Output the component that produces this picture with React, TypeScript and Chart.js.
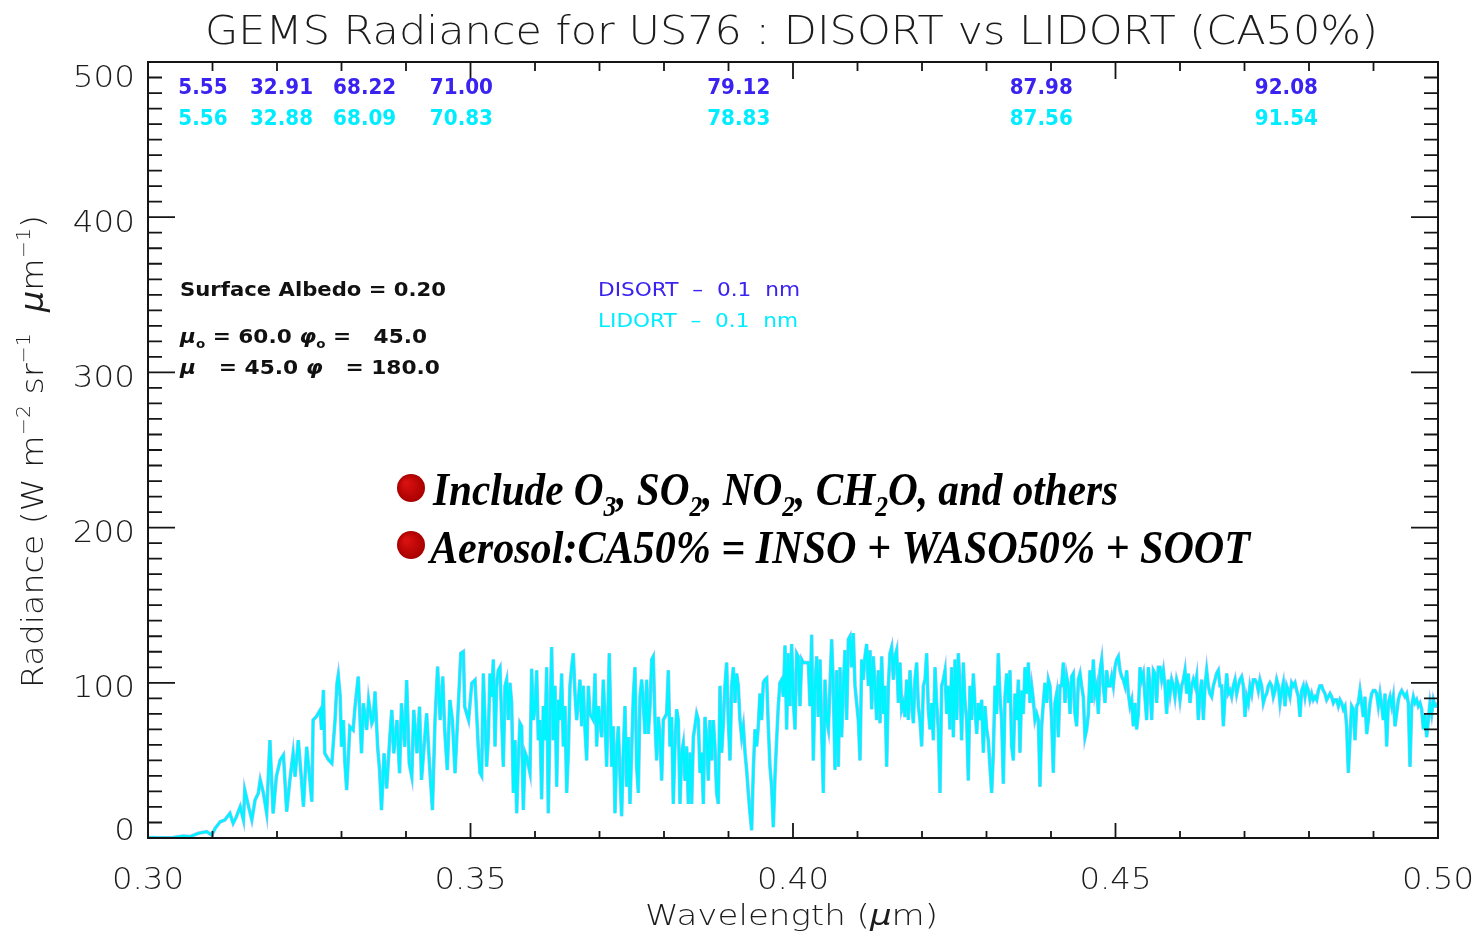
import React, { useEffect, useRef } from 'react';
import { Chart, registerables } from 'chart.js';

Chart.register(...registerables);

// ---------------- data ----------------
const X_TICKS = [0.3, 0.35, 0.4, 0.45, 0.5];
const X_TICK_LABELS = ['0.30', '0.35', '0.40', '0.45', '0.50'];
const Y_TICKS = [0, 100, 200, 300, 400, 500];
const Y_TICK_LABELS = ['0', '100', '200', '300', '400', '500'];

const DISORT_MEANS = ['5.55', '32.91', '68.22', '71.00', '79.12', '87.98', '92.08'];
const LIDORT_MEANS = ['5.56', '32.88', '68.09', '70.83', '78.83', '87.56', '91.54'];
const MEAN_ANCHORS_UM = [0.3047, 0.3158, 0.3287, 0.3437, 0.3867, 0.4336, 0.4716];

// LIDORT radiance spectrum, [wavelength nm, radiance]
const SPEC_300_351: number[][] = [
  [300.05,0.3],[301.9,0.2],[303.9,0.3],[305.5,1.3],[306.5,0.9],[307.8,3],[309.1,4.1],[309.9,1.9],[310.4,6.2],[311.2,10.5],
  [311.9,11.6],[312.7,15.9],[313.2,9.5],[313.7,13.7],[314.3,20.2],[314.8,11.6],[315.0,30.9],[315.6,20.2],[316.1,11.6],[316.6,24.5],
  [317.1,28.8],[317.4,37.4],[317.9,28.8],[318.4,15.9],[318.9,63.1],[319.4,15.9],[319.9,39.5],[320.5,50.3],[321.0,53.5],[321.5,17],
  [322.0,37.4],[322.5,54.6],[322.8,39.5],[323.3,63.1],[323.8,37.4],[324.1,20.2],[324.6,58.8],[324.9,46],[325.4,23.4],[325.6,76],
  [326.1,78.2],[326.7,82.5],[326.9,69.6],[327.2,95.4],[327.4,54.6],[328.0,50.3],[328.5,48.1],[329.0,76],[329.3,99.7],[329.5,105],
  [329.8,91.1],[330.0,58.8],[330.3,76],[330.5,50.3],[330.8,30.9],[331.3,71.7],[331.8,69.6],[332.1,84.6],[332.6,104],[333.1,54.6],
  [333.4,86.8],[333.9,69.6],[334.2,88.9],[334.7,73.9],[334.9,76],[335.2,94.3],[335.6,58.8],[335.9,43.8],[336.2,18],[336.6,54.6],
  [337.0,32],[337.5,65.3],[337.8,82.5],[338.1,54.6],[338.6,76],[339.0,41.7],[339.3,86.8],[339.8,58.8],[340.1,101.8],[340.5,48.1],
  [340.9,39.5],[341.2,82.5],[341.7,54.6],[342.1,84.6],[342.4,37.4],[342.8,58.8],[343.2,80.3],[343.6,50.3],[344.1,18],[344.5,76],
  [344.9,110.4],[345.3,76],[345.7,104],[346.0,69.6],[346.4,43.8],[346.8,88.9],[347.2,76],[347.6,41.7],[348.1,84.6],[348.5,119],
  [348.9,120.1],[349.1,84.6],[349.7,76],[350.2,99.7],[350.7,101.8],[351.2,58.8],
];
const SPEC_351_402: number[][] = [
  [351.47,42],[351.73,40],[351.99,106],[352.25,76],[352.5,46],[352.76,65],[353.02,106],[353.28,91],[353.54,115],[353.8,59],
  [354.05,98],[354.31,108],[354.57,110],[354.83,76],[355.09,46],[355.35,98],[355.6,102],[355.86,76],[356.12,100],[356.38,87],
  [356.64,29],[356.9,63],[357.16,16],[357.41,50],[357.67,74],[357.93,72],[358.19,18],[358.45,55],[358.71,52],[359.22,42],
  [359.48,109],[359.74,76],[360.0,83],[360.26,108],[360.51,63],[360.77,76],[361.03,25],[361.29,85],[361.55,63],[361.81,110],
  [362.06,16],[362.32,76],[362.58,123],[362.84,63],[363.1,98],[363.36,33],[363.61,89],[363.87,76],[364.13,106],[364.39,59],
  [364.65,85],[364.91,29],[365.17,55],[365.42,98],[365.68,110],[365.94,119],[366.2,93],[366.46,76],[366.72,89],[366.97,102],
  [367.23,72],[367.49,98],[367.75,70],[368.01,50],[368.27,98],[368.52,80],[369.04,76],[369.3,106],[369.56,59],[369.82,85],
  [370.33,65],[370.59,102],[370.85,76],[371.11,46],[371.52,119],[371.88,46],[372.14,72],[372.4,16],[372.66,55],[372.92,72],
  [373.18,40],[373.43,14],[373.69,55],[373.95,85],[374.21,33],[374.47,65],[374.73,22],[375.24,91],[375.5,110],[375.76,46],
  [376.02,29],[376.28,91],[376.54,102],[376.79,87],[377.05,67],[377.31,102],[377.57,67],[377.83,85],[378.09,115],[378.34,117],
  [378.6,76],[378.86,50],[379.12,78],[379.38,65],[379.64,37],[379.89,76],[380.41,80],[380.67,108],[380.93,59],[381.19,78],
  [381.44,22],[381.7,59],[381.96,83],[382.22,76],[382.48,22],[382.74,55],[382.99,61],[383.25,37],[383.51,59],[383.77,22],
  [384.03,55],[384.29,22],[384.55,65],[384.8,72],[385.06,80],[385.32,76],[385.58,42],[385.84,55],[386.1,22],[386.35,78],
  [386.61,65],[386.87,37],[387.13,76],[387.39,50],[387.65,76],[387.9,59],[388.16,29],[388.42,22],[388.68,98],[388.94,55],
  [389.2,74],[389.45,98],[389.71,113],[389.97,76],[390.23,50],[390.49,98],[390.75,110],[391.01,87],[391.26,106],[391.52,98],
  [391.78,76],[392.04,65],[392.3,72],[392.56,55],[392.81,44],[393.07,29],[393.33,16],[393.59,5],[393.85,44],[394.11,70],
  [394.36,59],[394.62,72],[394.88,93],[395.14,76],[395.4,100],[395.66,102],[395.92,103],[396.17,72],[396.43,46],[396.69,33],
  [396.95,7],[397.21,40],[397.46,63],[397.72,85],[397.98,100],[398.24,102],[398.5,91],[398.76,124],[399.01,70],[399.27,119],
  [399.53,85],[399.79,125],[400.05,89],[400.31,70],[400.56,119],[400.82,117],[401.08,85],[401.34,115],[401.6,113],
];
const SPEC_402_451: number[][] = [
  [401.86,113],[402.38,113],[402.64,85],[402.89,131],[403.15,50],[403.41,98],[403.67,117],[403.93,78],[404.19,115],[404.44,70],
  [404.7,29],[404.96,102],[405.22,76],[405.48,70],[405.74,98],[405.99,128],[406.25,98],[406.51,44],[406.77,108],[407.03,46],
  [407.29,110],[407.54,65],[407.8,98],[408.06,121],[408.32,76],[408.58,128],[408.84,130],[409.1,110],[409.35,132],[409.61,98],
  [409.87,87],[410.13,76],[410.39,50],[410.65,115],[410.9,102],[411.16,117],[411.42,125],[411.68,98],[411.94,121],[412.2,83],
  [412.45,117],[412.71,98],[412.97,76],[413.23,108],[413.49,74],[413.75,117],[414.0,80],[414.26,98],[414.52,46],[414.78,98],
  [415.04,119],[415.3,123],[415.56,102],[415.81,117],[416.07,121],[416.33,87],[416.59,113],[416.85,83],[417.11,87],[417.36,78],
  [417.62,102],[417.88,76],[418.14,108],[418.4,87],[418.66,74],[418.91,102],[419.17,113],[419.43,85],[419.69,76],[419.95,59],
  [420.21,98],[420.47,102],[420.72,119],[420.98,83],[421.24,70],[421.5,87],[421.76,63],[422.02,110],[422.27,87],[422.53,70],
  [422.79,29],[423.05,98],[423.31,102],[423.57,108],[423.82,80],[424.08,98],[424.34,70],[424.6,110],[424.86,65],[425.12,115],
  [425.38,76],[425.63,119],[425.89,98],[426.15,63],[426.41,113],[426.67,87],[426.93,76],[427.18,37],[427.44,98],[427.7,76],
  [427.96,106],[428.22,85],[428.48,67],[428.73,87],[428.99,76],[429.25,89],[429.51,55],[429.77,85],[430.03,70],[430.28,63],
  [430.54,46],[430.8,29],[431.06,55],[431.32,98],[431.58,80],[431.83,119],[432.09,91],[432.35,76],[432.61,35],[432.87,91],
  [433.13,106],[433.39,87],[433.64,108],[433.9,59],[434.16,50],[434.42,93],[434.68,76],[434.94,102],[435.19,55],[435.45,95],
  [435.71,80],[435.97,110],[436.23,93],[436.49,113],[436.74,87],[437.0,98],[437.26,89],[437.52,76],[437.78,80],[438.04,76],
  [438.29,33],[438.55,72],[438.81,87],[439.07,100],[439.33,87],[439.59,102],[439.84,98],[440.1,76],[440.36,42],[440.62,87],
  [440.88,93],[441.14,65],[441.4,98],[441.65,98],[441.91,113],[442.17,87],[442.43,104],[442.69,98],[442.95,80],[443.2,104],
  [443.46,106],[443.72,80],[443.98,72],[444.24,102],[444.5,106],[444.75,98],[445.01,91],[445.27,65],[445.53,70],[445.79,80],
  [446.05,108],[446.3,87],[446.56,115],[446.82,93],[447.08,98],[447.34,80],[447.6,108],[447.86,115],[448.11,98],[448.37,87],
  [448.63,108],[448.89,98],[449.15,98],[449.41,104],[449.66,98],[449.92,110],[450.18,115],[450.44,117],[450.7,108],[450.96,104],
  [451.21,102],
];
const SPEC_451_500: number[][] = [
  [451.47,98],[451.73,108],[451.99,93],[452.25,85],[452.51,89],[452.76,72],[453.02,87],[453.28,70],[453.54,80],[453.8,110],
  [454.06,102],[454.32,106],[454.57,91],[454.83,76],[455.09,110],[455.35,98],[455.61,76],[455.87,108],[456.12,106],[456.38,87],
  [456.64,110],[456.9,110],[457.16,102],[457.42,108],[457.67,98],[457.93,80],[458.19,102],[458.45,93],[458.71,102],[458.97,98],
  [459.22,91],[459.48,102],[459.74,98],[460.0,89],[460.26,98],[460.52,102],[460.77,108],[461.03,93],[461.29,106],[461.55,87],
  [461.81,98],[462.07,102],[462.33,98],[462.58,104],[462.84,76],[463.1,93],[463.36,102],[463.62,76],[463.88,98],[464.13,108],
  [464.39,98],[464.65,93],[464.91,91],[465.17,98],[465.43,102],[465.68,106],[465.94,108],[466.2,98],[466.46,98],[466.72,72],
  [466.98,91],[467.24,106],[467.49,93],[467.75,95],[468.01,91],[468.27,98],[468.53,102],[468.79,93],[469.04,98],[469.3,102],
  [469.56,104],[469.82,98],[470.08,78],[470.34,91],[470.59,87],[470.85,98],[471.11,93],[471.37,102],[471.63,102],[471.89,100],
  [472.14,95],[472.4,102],[472.66,98],[472.92,87],[473.18,91],[473.44,93],[473.69,98],[473.95,100],[474.21,98],[474.47,91],
  [474.73,95],[474.99,102],[475.25,98],[475.5,87],[475.76,95],[476.02,100],[476.28,85],[476.54,98],[476.8,95],[477.05,91],
  [477.31,100],[477.57,98],[477.83,100],[478.09,95],[478.35,91],[478.6,78],[478.86,95],[479.12,98],[479.38,91],[479.64,98],
  [479.9,95],[480.15,89],[480.41,93],[480.67,89],[480.93,91],[481.19,89],[481.45,95],[481.7,98],[481.96,98],[482.22,95],
  [482.48,93],[482.74,89],[483.0,91],[483.26,93],[483.51,91],[483.77,87],[484.03,89],[484.29,89],[484.55,85],[484.81,89],
  [485.06,87],[485.32,83],[485.58,85],[485.84,72],[486.1,42],[486.36,65],[486.61,85],[486.87,83],[487.13,63],[487.39,85],
  [487.65,87],[487.91,95],[488.17,87],[488.42,78],[488.68,91],[488.94,67],[489.2,76],[489.46,87],[489.72,93],[489.97,95],
  [490.23,95],[490.49,93],[490.75,85],[491.01,93],[491.27,85],[491.52,76],[491.78,93],[492.04,59],[492.3,87],[492.56,91],
  [492.82,85],[493.07,91],[493.33,72],[493.59,80],[493.85,89],[494.11,93],[494.37,95],[494.63,93],[494.88,91],[495.14,93],
  [495.4,87],[495.66,46],[495.92,85],[496.18,91],[496.43,87],[496.69,89],[496.95,85],[497.21,87],[497.47,83],[497.73,70],
  [497.98,80],[498.24,65],[498.5,76],[498.76,87],[499.02,80],[499.28,89],[499.54,85],[499.8,85],[500.0,87],
];

// DISORT and LIDORT curves coincide in the picture (DISORT lies beneath LIDORT).
const LIDORT_SPECTRUM = [...SPEC_300_351, ...SPEC_351_402, ...SPEC_402_451, ...SPEC_451_500];
const DISORT_SPECTRUM = LIDORT_SPECTRUM.map((p) => [p[0], p[1]]);

// ---------------- styling ----------------
const IDL_FONT = '"DejaVu Sans"';
const SERIF_FONT = '"Liberation Serif", "DejaVu Serif", serif';
const BLUE = '#3a22f0';
const CYAN = '#00ecff';

type Seg = { t: string; sub?: boolean; sup?: boolean; style?: string; weight?: string };
type RichOpts = {
  size: number;
  family: string;
  weight?: string;
  style?: string;
  color: string;
  width?: number;
  sx?: number;
  align?: 'left' | 'center' | 'right';
  rotate?: number;
};

function drawRich(ctx: CanvasRenderingContext2D, segs: Seg[], x: number, y: number, o: RichOpts) {
  const fontOf = (s: Seg) => {
    const sz = s.sub || s.sup ? o.size * 0.62 : o.size;
    return `${s.style ?? o.style ?? 'normal'} ${s.weight ?? o.weight ?? 'normal'} ${sz}px ${o.family}`;
  };
  const widths = segs.map((s) => {
    ctx.font = fontOf(s);
    return ctx.measureText(s.t).width;
  });
  const total = widths.reduce((a, b) => a + b, 0);
  const sx = o.width ? o.width / total : o.sx ?? 1;
  const align = o.align ?? 'left';
  let cx = align === 'left' ? 0 : align === 'center' ? -total / 2 : -total;
  ctx.save();
  ctx.translate(x, y);
  if (o.rotate) ctx.rotate(o.rotate);
  ctx.scale(sx, 1);
  ctx.fillStyle = o.color;
  ctx.textAlign = 'left';
  ctx.textBaseline = 'alphabetic';
  segs.forEach((s, i) => {
    ctx.font = fontOf(s);
    const dy = s.sub ? o.size * 0.24 : s.sup ? -o.size * 0.42 : 0;
    ctx.fillText(s.t, cx, dy);
    cx += widths[i];
  });
  ctx.restore();
}

const idlPlugin = {
  id: 'idlFrame',
  afterDraw(chart: any) {
    const { ctx, chartArea: a, scales } = chart;
    const xs = scales.x;
    const ys = scales.y;
    ctx.save();

    // frame
    ctx.strokeStyle = '#151515';
    ctx.lineWidth = 2;
    ctx.strokeRect(a.left, a.top, a.right - a.left, a.bottom - a.top);

    // inward ticks
    ctx.lineWidth = 1.8;
    ctx.beginPath();
    for (let v = 0; v <= 500; v += 10) {
      const py = ys.getPixelForValue(v);
      const L = v % 100 === 0 ? 27 : 14;
      ctx.moveTo(a.left, py);
      ctx.lineTo(a.left + L, py);
      ctx.moveTo(a.right, py);
      ctx.lineTo(a.right - L, py);
    }
    for (let i = 0; i <= 20; i++) {
      const px = xs.getPixelForValue(0.3 + i * 0.01);
      const major = i % 5 === 0;
      ctx.moveTo(px, a.bottom);
      ctx.lineTo(px, a.bottom - (major ? 15 : 7));
      ctx.moveTo(px, a.top);
      ctx.lineTo(px, a.top + (major ? 17 : 9));
    }
    ctx.stroke();

    // title
    drawRich(ctx, [{ t: 'GEMS Radiance for US76 : DISORT vs LIDORT (CA50%)' }], 791.5, 44, {
      size: 39, family: IDL_FONT, weight: '300', color: '#1c1c1c', width: 1173, align: 'center',
    });

    // x tick labels
    X_TICKS.forEach((v, i) => {
      drawRich(ctx, [{ t: X_TICK_LABELS[i] }], xs.getPixelForValue(v), 889, {
        size: 30, family: IDL_FONT, weight: '300', color: '#1c1c1c', width: 72, align: 'center',
      });
    });
    // y tick labels
    Y_TICKS.forEach((v, i) => {
      const off = v === 500 ? 13 : v === 0 ? -10 : 3;
      const cy = ys.getPixelForValue(v) + off;
      drawRich(ctx, [{ t: Y_TICK_LABELS[i] }], 135, cy + 11.5, {
        size: 31, family: IDL_FONT, weight: '300', color: '#1c1c1c', sx: 1.05, align: 'right',
      });
    });

    // axis titles
    drawRich(ctx, [{ t: 'Wavelength (' }, { t: 'μ', style: 'italic' }, { t: 'm)' }], 791.5, 925, {
      size: 29, family: IDL_FONT, weight: '300', color: '#1c1c1c', width: 293, align: 'center',
    });
    drawRich(
      ctx,
      [
        { t: 'Radiance (W m' }, { t: '−2', sup: true }, { t: ' sr' }, { t: '−1', sup: true },
        { t: '  ' }, { t: 'μ', style: 'italic' }, { t: 'm' }, { t: '−1', sup: true }, { t: ')' },
      ],
      43, 451.5,
      { size: 31, family: IDL_FONT, weight: '300', color: '#1c1c1c', width: 473, align: 'center', rotate: -Math.PI / 2 },
    );

    // mean values
    MEAN_ANCHORS_UM.forEach((u, i) => {
      const px = xs.getPixelForValue(u);
      drawRich(ctx, [{ t: DISORT_MEANS[i] }], px, 94, { size: 21, family: IDL_FONT, weight: '600', color: BLUE, sx: 0.95 });
      drawRich(ctx, [{ t: LIDORT_MEANS[i] }], px, 125, { size: 21, family: IDL_FONT, weight: '600', color: CYAN, sx: 0.95 });
    });

    // geometry block
    drawRich(ctx, [{ t: 'Surface Albedo = 0.20' }], 180, 296, {
      size: 20, family: IDL_FONT, weight: 'bold', color: '#111', width: 266,
    });
    drawRich(
      ctx,
      [{ t: 'μ', style: 'italic' }, { t: 'o', sub: true }, { t: ' = 60.0 ' }, { t: 'φ', style: 'italic' }, { t: 'o', sub: true }, { t: ' =   45.0' }],
      180, 343, { size: 20, family: IDL_FONT, weight: 'bold', color: '#111', width: 247 },
    );
    drawRich(
      ctx,
      [{ t: 'μ', style: 'italic' }, { t: '   = 45.0 ' }, { t: 'φ', style: 'italic' }, { t: '   = 180.0' }],
      180, 374, { size: 20, family: IDL_FONT, weight: 'bold', color: '#111', width: 260 },
    );

    // legend
    drawRich(ctx, [{ t: 'DISORT  –  0.1  nm' }], 598, 296, { size: 20, family: IDL_FONT, color: BLUE, width: 202 });
    drawRich(ctx, [{ t: 'LIDORT  –  0.1  nm' }], 598, 327, { size: 20, family: IDL_FONT, color: CYAN, width: 200 });

    // bullets
    [488, 545].forEach((cy) => {
      const g = ctx.createRadialGradient(406, cy - 5, 2, 411, cy, 14);
      g.addColorStop(0, '#d81010');
      g.addColorStop(1, '#a80000');
      ctx.fillStyle = g;
      ctx.beginPath();
      ctx.arc(411, cy, 14, 0, Math.PI * 2);
      ctx.fill();
    });
    drawRich(
      ctx,
      [
        { t: 'Include O' }, { t: '3', sub: true }, { t: ', SO' }, { t: '2', sub: true }, { t: ', NO' }, { t: '2', sub: true },
        { t: ', CH' }, { t: '2', sub: true }, { t: 'O, and others' },
      ],
      433, 505, { size: 46, family: SERIF_FONT, style: 'italic', weight: 'bold', color: '#000', width: 685 },
    );
    drawRich(ctx, [{ t: 'Aerosol:CA50% = INSO + WASO50% + SOOT' }], 430, 563, {
      size: 46, family: SERIF_FONT, style: 'italic', weight: 'bold', color: '#000', width: 820,
    });

    ctx.restore();
  },
};

export default function App() {
  const ref = useRef<HTMLCanvasElement | null>(null);
  useEffect(() => {
    if (!ref.current) return;
    const toPts = (arr: number[][]) => arr.map((p) => ({ x: p[0] / 1000, y: p[1] }));
    const chart = new Chart(ref.current, {
      type: 'line',
      data: {
        datasets: [
          {
            label: 'LIDORT – 0.1 nm',
            data: toPts(LIDORT_SPECTRUM),
            borderColor: '#00f4ff',
            borderWidth: 2.4,
            pointRadius: 0,
            tension: 0,
          },
          {
            label: 'DISORT – 0.1 nm',
            data: toPts(DISORT_SPECTRUM),
            borderColor: 'rgba(110,170,255,0.7)',
            borderWidth: 3.6,
            pointRadius: 0,
            tension: 0,
          },
        ],
      },
      options: {
        animation: false,
        responsive: false,
        devicePixelRatio: 1,
        layout: { padding: { top: 62, right: 41, left: 0, bottom: 0 } },
        plugins: { legend: { display: false }, tooltip: { enabled: false }, title: { display: false } },
        scales: {
          x: {
            type: 'linear',
            min: 0.3,
            max: 0.5,
            ticks: { display: false },
            grid: { display: false },
            border: { display: false },
            afterFit: (s: any) => { s.height = 104; },
          },
          y: {
            type: 'linear',
            min: 0,
            max: 500,
            ticks: { display: false },
            grid: { display: false },
            border: { display: false },
            afterFit: (s: any) => { s.width = 148; },
          },
        },
      },
      plugins: [idlPlugin],
    } as any);
    return () => chart.destroy();
  }, []);
  return (
    <div style={{ position: 'fixed', left: 0, top: 0, width: 1479, height: 942, background: '#fff' }}>
      <canvas ref={ref} width={1479} height={942} style={{ display: 'block' }} />
    </div>
  );
}
